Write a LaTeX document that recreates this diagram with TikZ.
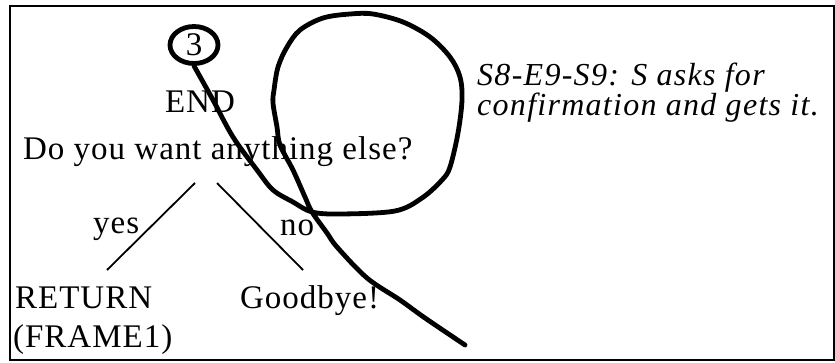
\documentclass[tikz,border=0pt]{standalone}
\usepackage{fontspec}
\setmainfont{Liberation Serif}
\usetikzlibrary{shapes.geometric}
\begin{document}
\begin{tikzpicture}[x=1pt,y=-1pt,
  lbl/.style={inner sep=0pt, font=\fontsize{33}{33}\selectfont\addfontfeature{LetterSpace=3}},
  note/.style={inner sep=0pt, font=\fontsize{32}{32}\selectfont\itshape\addfontfeature{LetterSpace=4}},
  circ/.style={draw, ellipse, line width=4.8pt, minimum width=48pt, minimum height=37pt, inner sep=0pt, font=\fontsize{33}{33}\selectfont},
  branch/.style={line width=1.8pt},
  stroke/.style={line width=4.8pt, line cap=round, line join=round},
  frame/.style={line width=2pt}]
\useasboundingbox (0,0) rectangle (835,362);
\draw[frame] (10,6) rectangle (834,360);

\node[circ] (c3) at (194,45) {3};
\node[lbl, anchor=base] (end) at (200,112) {END};
\node[lbl, anchor=base west] (q) at (23,159) {Do you want anything else?};
\node[lbl, anchor=base west] (yes) at (93,233) {yes};
\node[lbl, anchor=base west] (no) at (280,235) {no};
\node[lbl, anchor=base west] (ret) at (15,308) {RETURN};
\node[lbl, anchor=base west] (frame1) at (13,347) {(FRAME1)};
\node[lbl, anchor=base west] (bye) at (240,308) {Goodbye!};
\node[note, anchor=base west] (n1) at (477,85) {S8-E9-S9: S asks for};
\node[note, anchor=base west] (n2) at (477,115) {confirmation and gets it.};

\coordinate (ya) at (195,183);
\coordinate (yb) at (107,270);
\coordinate (na) at (217,183);
\coordinate (nb) at (303,270);
\draw[branch] (ya) -- (yb);
\draw[branch] (na) -- (nb);

\draw[stroke] plot[smooth, tension=0.55] coordinates {
  (c3.south) (213,100) (233,137) (257,170) (273,190) (293,202) (312,212)
  (340,214) (395,211) (422,198) (442,180) (450,167) (458,133)
  (462,100) (460,77) (450,57) (430,37) (403,22) (373,14) (350,14) (323,18)
  (300,30) (287,47) (278,67) (274,90) (273,103) (277,127) (280,145)
  (293,170) (305,197) (312,212) (327,233) (337,247) (367,278) (400,300)
  (425,318) (465,345)};
\end{tikzpicture}
\end{document}
